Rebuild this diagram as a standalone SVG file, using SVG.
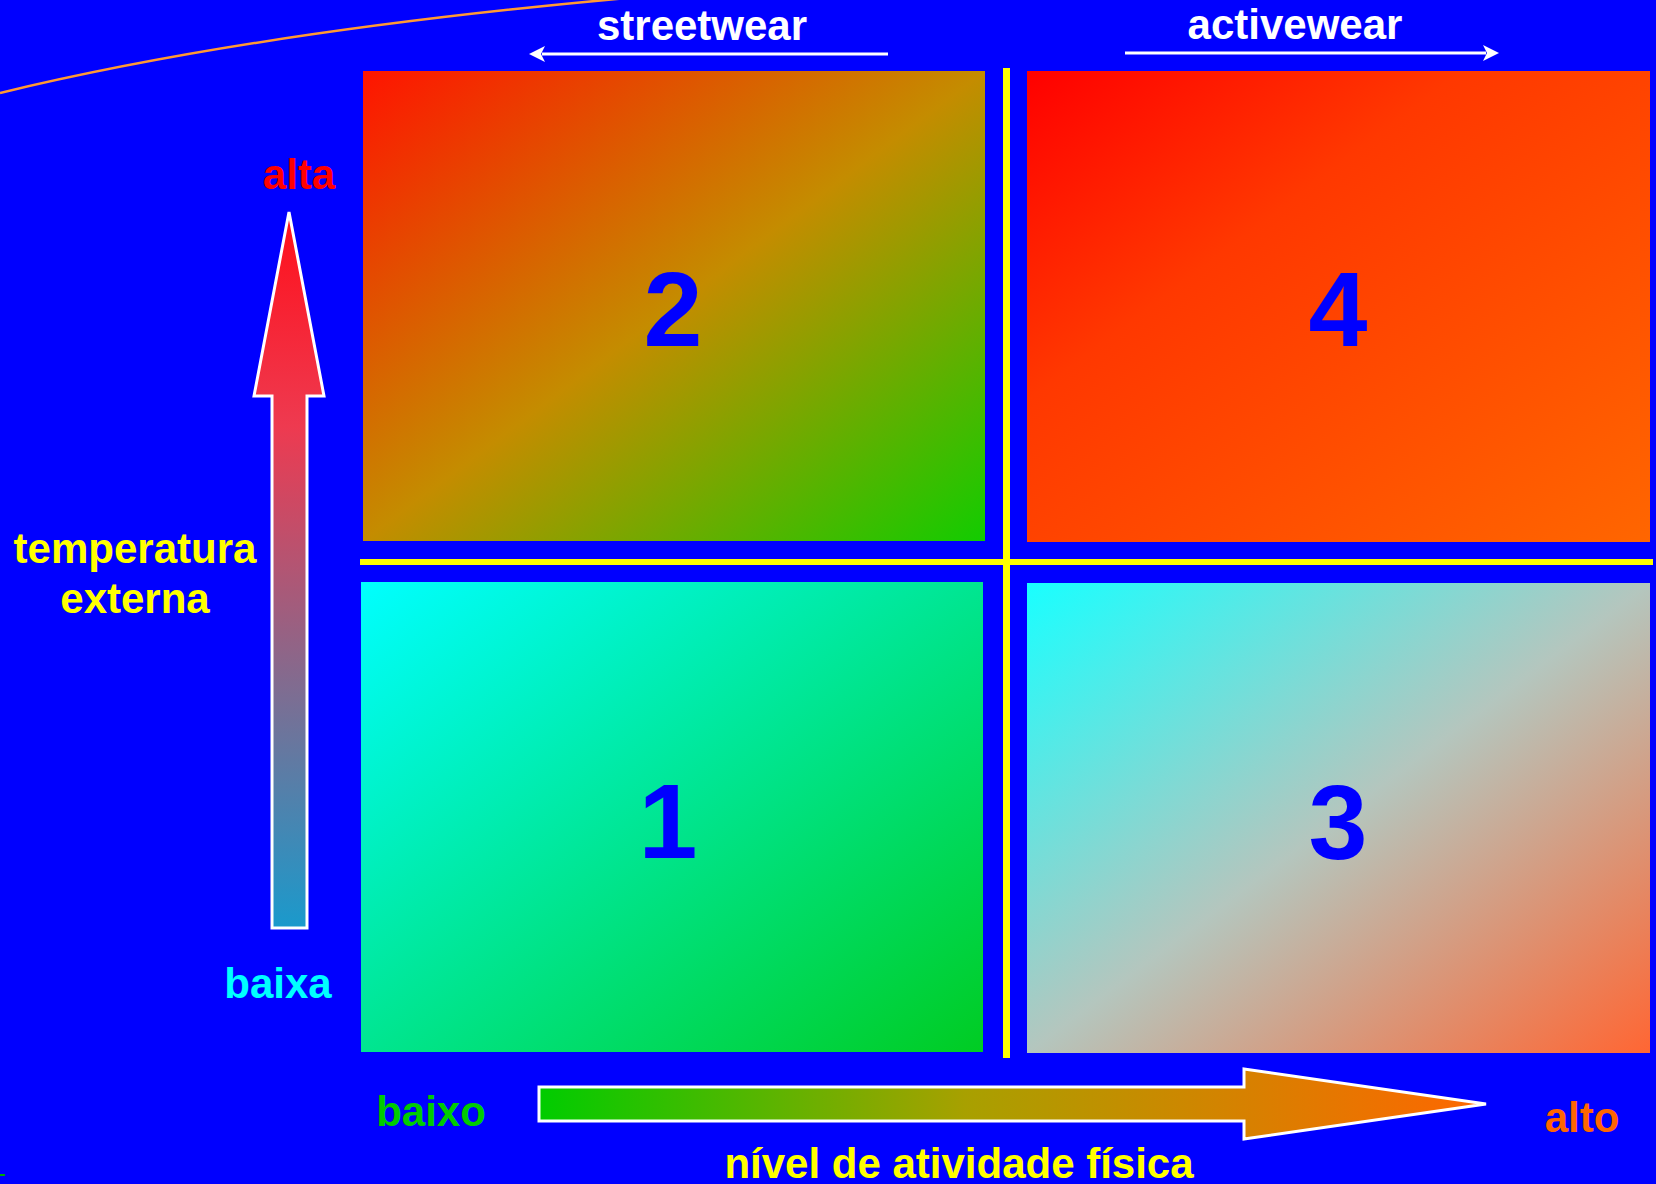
<svg xmlns="http://www.w3.org/2000/svg" width="1656" height="1184" viewBox="0 0 1656 1184">
<defs>
<style>
.t{font-family:"Liberation Sans",Arial,sans-serif;font-weight:bold;font-size:42px;text-anchor:middle}
.num{font-family:"Liberation Sans",Arial,sans-serif;font-weight:bold;font-size:106px;text-anchor:middle;fill:#0000FF}
.sep{fill:#FFFF00}
</style>
<linearGradient id="g2" x1="0" y1="0" x2="1" y2="1">
<stop offset="0" stop-color="#FF1400"/><stop offset="0.5" stop-color="#C48C00"/><stop offset="1" stop-color="#12CC00"/>
</linearGradient>
<linearGradient id="g4" x1="0" y1="0" x2="1" y2="1">
<stop offset="0" stop-color="#FF0000"/><stop offset="0.35" stop-color="#FF3800"/><stop offset="1" stop-color="#FF6600"/>
</linearGradient>
<linearGradient id="g1" x1="0" y1="0" x2="1" y2="1">
<stop offset="0" stop-color="#00FFFF"/><stop offset="1" stop-color="#00CC22"/>
</linearGradient>
<linearGradient id="g3" x1="0" y1="0" x2="1" y2="1">
<stop offset="0" stop-color="#19FFFF"/><stop offset="0.5" stop-color="#B4C6BE"/><stop offset="1" stop-color="#FF6633"/>
</linearGradient>
<linearGradient id="gv" x1="0" y1="212" x2="0" y2="928" gradientUnits="userSpaceOnUse">
<stop offset="0" stop-color="#FF0F1A"/><stop offset="0.3" stop-color="#EE3A50"/><stop offset="1" stop-color="#1A9ACC"/>
</linearGradient>
<linearGradient id="gh" x1="539" y1="0" x2="1486" y2="0" gradientUnits="userSpaceOnUse">
<stop offset="0" stop-color="#00CC00"/><stop offset="0.45" stop-color="#A8A000"/><stop offset="1" stop-color="#FF6600"/>
</linearGradient>
<marker id="ah" viewBox="0 0 16 16" refX="3" refY="8" markerWidth="16" markerHeight="16" markerUnits="userSpaceOnUse" orient="auto-start-reverse">
<path d="M0,0 L16,8 L0,16 L4,8 Z" fill="#FFFFFF"/>
</marker>
</defs>
<rect width="1656" height="1184" fill="#0000FF"/>
<path d="M0,93 Q260,30 650,-4" fill="none" stroke="#FF9933" stroke-width="2.5"/>
<line x1="0" y1="1175" x2="5" y2="1175" stroke="#00AA00" stroke-width="2"/>

<g id="q2"><rect x="363" y="71" width="622" height="470" fill="url(#g2)"/><text class="num" x="673" y="346">2</text></g>
<g id="q4"><rect x="1027" y="71" width="623" height="471" fill="url(#g4)"/><text class="num" x="1338" y="346">4</text></g>
<g id="q1"><rect x="361" y="582" width="622" height="470" fill="url(#g1)"/><text class="num" x="668" y="858">1</text></g>
<g id="q3"><rect x="1027" y="583" width="623" height="470" fill="url(#g3)"/><text class="num" x="1338" y="859">3</text></g>

<g id="axes">
<rect class="sep" x="1003" y="68" width="7" height="990"/>
<rect class="sep" x="360" y="559" width="1293" height="6"/>
</g>

<g id="connectors">
<line x1="542" y1="54" x2="888" y2="54" stroke="#FFFFFF" stroke-width="3" marker-start="url(#ah)"/>
<line x1="1125" y1="53" x2="1486" y2="53" stroke="#FFFFFF" stroke-width="3" marker-end="url(#ah)"/>
<path id="uparrow" d="M289,212 L324,396 L307,396 L307,928 L272,928 L272,396 L254,396 Z" fill="url(#gv)" stroke="#FFFFFF" stroke-width="3"/>
<path id="rightarrow" d="M539,1087 L1244,1087 L1244,1069 L1486,1104 L1244,1139 L1244,1121 L539,1121 Z" fill="url(#gh)" stroke="#FFFFFF" stroke-width="3"/>
</g>

<g id="labels">
<text class="t" x="702" y="40" fill="#FFFFFF">streetwear</text>
<text class="t" x="1295" y="39" fill="#FFFFFF">activewear</text>
<text class="t" x="299" y="189" fill="#FF0000">alta</text>
<text class="t" x="135" y="563" fill="#FFFF00">temperatura</text>
<text class="t" x="135" y="613" fill="#FFFF00">externa</text>
<text class="t" x="278" y="998" fill="#00FFFF">baixa</text>
<text class="t" x="431" y="1126" fill="#00CC00">baixo</text>
<text class="t" x="1582" y="1132" fill="#FF6600">alto</text>
<text class="t" x="959" y="1178" fill="#FFFF00">nível de atividade física</text>
</g>
</svg>
